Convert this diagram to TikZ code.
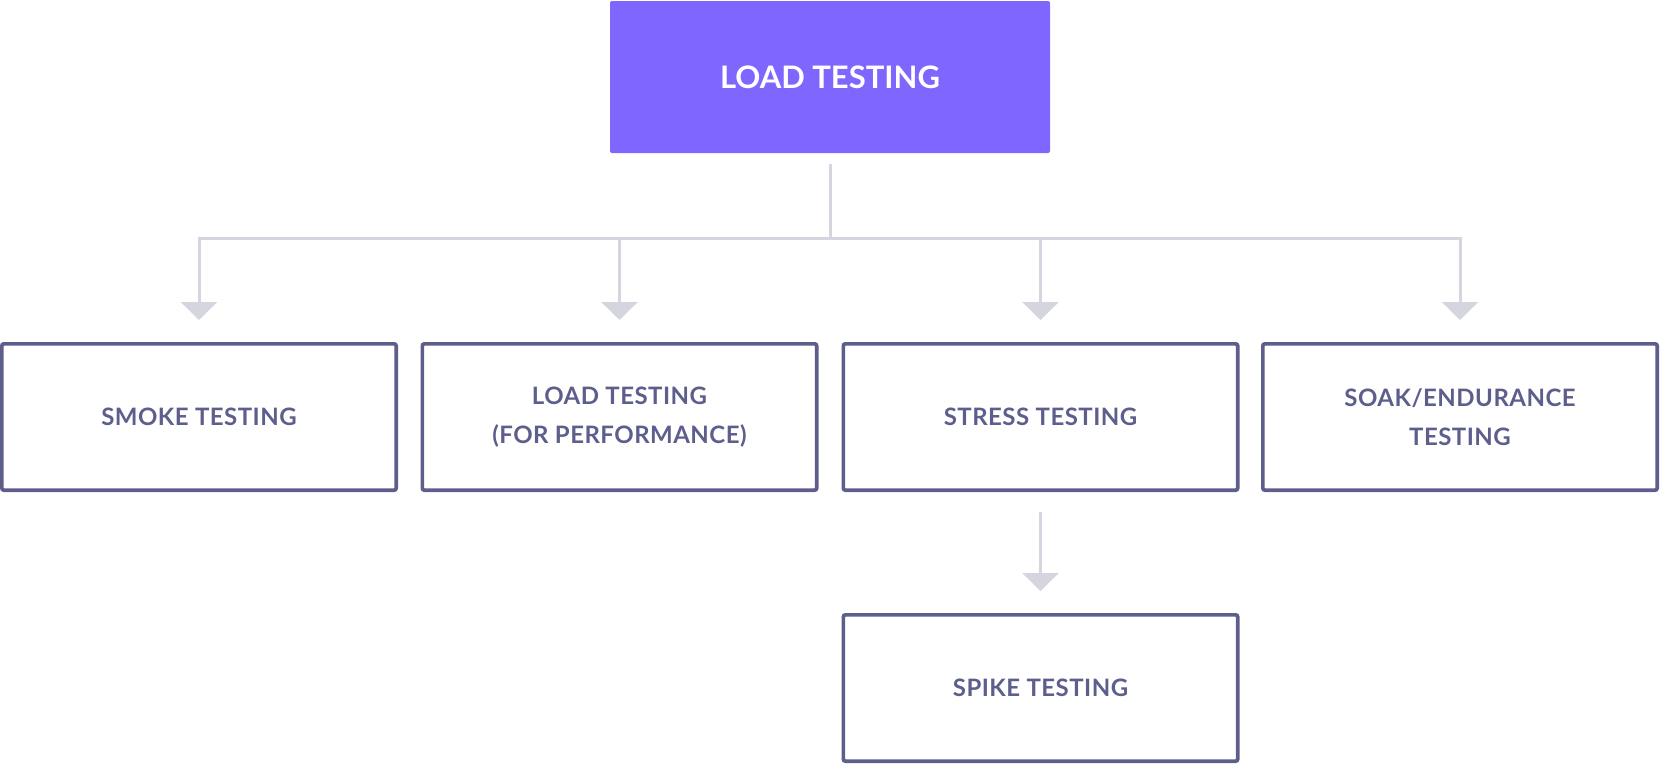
\documentclass[tikz,border=0pt]{standalone}
\usepackage{fontspec}
\setmainfont{Lato}
\usetikzlibrary{arrows.meta}
\definecolor{violet}{HTML}{7F66FF}
\definecolor{slate}{HTML}{5D5E8C}
\definecolor{wire}{HTML}{D5D5DF}
\begin{document}
\begin{tikzpicture}
[
    x=1pt, y=-1pt,
    root/.style={fill=violet, rounded corners=2pt, minimum width=440pt, minimum height=152pt,
        text=white, font=\fontsize{31}{36}\selectfont\bfseries},
    kind/.style={draw=slate, line width=3.7pt, rounded corners=2pt, minimum width=394.3pt,
        minimum height=146.3pt, text=slate, align=center,
        font=\fontsize{24}{39}\selectfont\bfseries\addfontfeatures{LetterSpace=2}},
    link/.style={wire, line width=3pt},
    down/.style={link, -{Triangle[width=36pt, length=18pt]}, shorten >=22pt},
]
\useasboundingbox (0,0) rectangle (1660,764);
\node[root] (load) at (830,77) {LOAD TESTING};
\node[kind] (smoke) at (199,417) {SMOKE TESTING};
\node[kind] (perf) at (619.5,417) {LOAD TESTING\\(FOR PERFORMANCE)};
\node[kind] (stress) at (1040.5,417) {STRESS TESTING};
\node[kind] (soak) at (1460,417) {SOAK/ENDURANCE\\TESTING};
\node[kind] (spike) at (1040.5,688) {SPIKE TESTING};
\coordinate (bus) at (830,238);
% branches
\draw[link] (load.south) ++(0,11) -- (bus);
\foreach \n in {smoke,perf,stress,soak}
    \draw[down] (bus) -| (\n.north);
\draw[down, shorten <=20pt] (stress.south) -- (spike.north);
\end{tikzpicture}
\end{document}
